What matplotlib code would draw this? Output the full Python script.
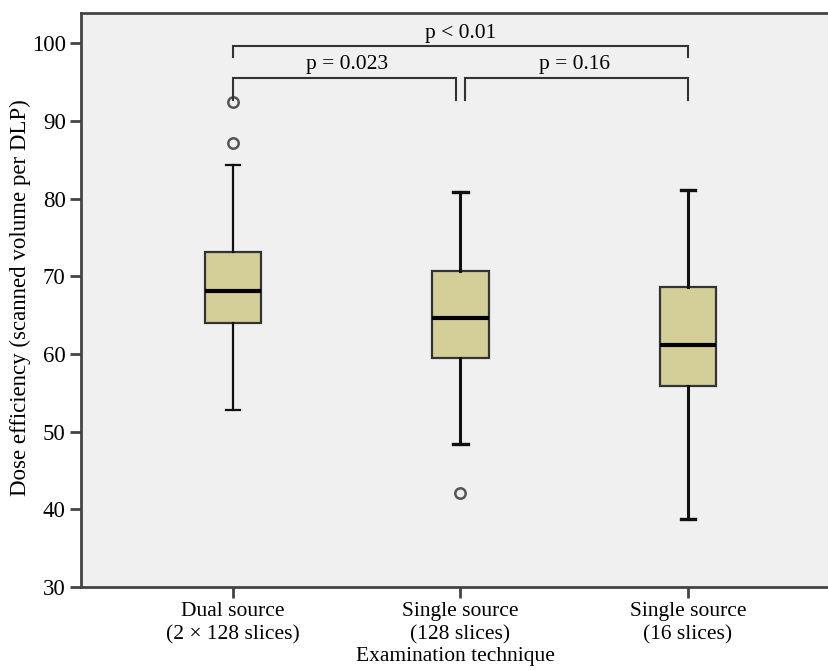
import matplotlib
matplotlib.use("Agg")
import matplotlib.pyplot as plt

# box statistics
groups = ["Dual source\n(2 \u00d7 128 slices)", "Single source\n(128 slices)", "Single source\n(16 slices)"]
whislo = [52.8, 48.4, 38.7]
q1 = [64.0, 59.5, 55.9]
med = [68.1, 64.6, 61.1]
q3 = [73.1, 70.7, 68.6]
whishi = [84.3, 80.8, 81.1]
fliers = [[92.5, 87.1], [42.1], []]

# significance brackets: (from, to), label, height
pairs = [(1, 2), (2, 3), (1, 3)]
p_labels = ["p = 0.023", "p = 0.16", "p < 0.01"]
bracket_y = [95.5, 95.5, 99.6]

plt.rcParams['font.family'] = ['Liberation Serif', 'DejaVu Serif']
plt.rcParams['font.size'] = 15.5

fig = plt.figure(figsize=(8.29, 6.7), dpi=100)
ax = fig.add_axes([0.0977, 0.1239, 0.9023, 0.8567])
ax.set_facecolor('#f0f0f0')

stats = []
for i in range(len(groups)):
    stats.append(dict(whislo=whislo[i], q1=q1[i], med=med[i], q3=q3[i],
                      whishi=whishi[i], fliers=fliers[i]))

bp = ax.bxp(stats, positions=[1, 2, 3], widths=0.25, capwidths=0.065, patch_artist=True,
            boxprops=dict(facecolor='#d4cf99', edgecolor='#333333', linewidth=1.6),
            medianprops=dict(color='black', linewidth=3),
            whiskerprops=dict(color='#111111', linewidth=2.2),
            capprops=dict(color='#111111', linewidth=2.4),
            flierprops=dict(marker='o', markerfacecolor='none', markeredgecolor='#555555',
                            markersize=7.5, markeredgewidth=1.8))
# first group is drawn with thinner whiskers in the original
for ln in bp['whiskers'][:2] + bp['caps'][:2]:
    ln.set_linewidth(1.6)

# brackets
gap = 0.02
for (a, b), lab, y in zip(pairs, p_labels, bracket_y):
    x0, x1 = a, b
    drop = 2.8
    if (a, b) == (1, 2):
        x1 = b - gap
    elif (a, b) == (2, 3):
        x0 = a + gap
    else:
        drop = 1.4
    ax.plot([x0, x0, x1, x1], [y - drop, y, y, y - drop],
            color='#333333', linewidth=1.5, solid_joinstyle='miter')
    ax.text((a + b) / 2, y + 0.5, lab, ha='center', va='bottom', fontsize=15.5)

ax.set_ylim(30, 103.9)
ax.set_xlim(0.332, 3.62)
ax.set_yticks([30, 40, 50, 60, 70, 80, 90, 100])
ax.set_xticks([1, 2, 3])
ax.set_xticklabels(groups, linespacing=1.25)
ax.tick_params(axis='both', direction='out', length=8, width=2, color='#444444')
ax.tick_params(axis='y', labelsize=16.5, pad=3)
ax.tick_params(axis='x', labelsize=15.5, pad=3)

for side in ['left', 'top', 'bottom']:
    ax.spines[side].set_color('#444444')
    ax.spines[side].set_linewidth(2)
ax.spines['right'].set_visible(False)

fig.text(20 / 829, 0.556, "Dose efficiency (scanned volume per DLP)", rotation=90,
         ha='center', va='center', fontsize=16.5)
fig.text(455 / 829, 1 - 656 / 670, "Examination technique", ha='center', va='center',
         fontsize=15.5)

fig.savefig("out.png", dpi=100)
